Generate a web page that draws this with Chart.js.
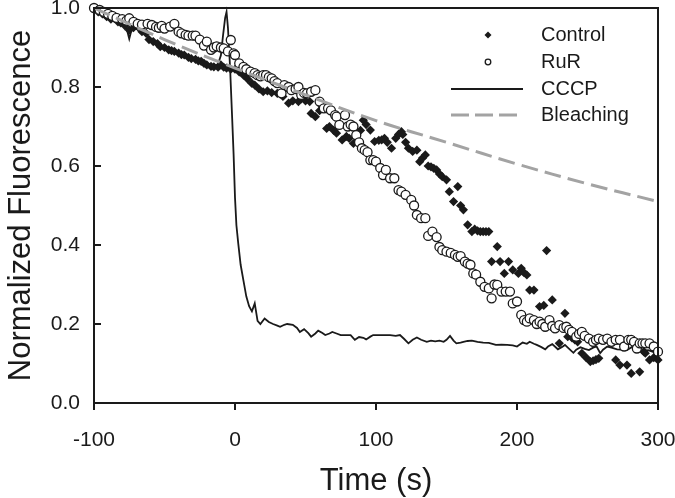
<!DOCTYPE html>
<html>
<head>
<meta charset="utf-8">
<script src="https://cdn.jsdelivr.net/npm/chart.js@4.4.1/dist/chart.umd.min.js"></script>
<style>
  html, body { margin: 0; padding: 0; background: #fff; }
  #wrap { width: 675px; height: 498px; }
</style>
</head>
<body>
<div id="wrap"><canvas id="chart" width="675" height="498"></canvas></div>
<script>
// axis ticks
var xTicks = [-100, 0, 100, 200, 300];
var yTicks = [0, 0.2, 0.4, 0.6, 0.8, 1.0];

// [time (s), normalized fluorescence]
var control = [
  [-100,1.0],[-97,0.99],[-94,0.985],[-91,0.978],[-88,0.972],[-86,0.975],[-83,0.965],[-81,0.962],
  [-78,0.955],[-75,0.944],[-72,0.95],[-69,0.953],[-66,0.94],[-63,0.936],[-61,0.92],[-58,0.915],
  [-55,0.91],[-53,0.902],[-50,0.9],[-47,0.894],[-45,0.892],[-43,0.89],[-40,0.886],[-38,0.882],
  [-36,0.881],[-33,0.875],[-31,0.872],[-28,0.87],[-26,0.866],[-24,0.865],[-22,0.86],[-20,0.856],
  [-17,0.852],[-15,0.851],[-12,0.85],[-10,0.856],[-8,0.85],[-6,0.848],[-3,0.845],[0,0.845],
  [3,0.838],[6,0.83],[9,0.82],[12,0.809],[14,0.805],[17,0.795],[20,0.788],[23,0.79],[26,0.786],
  [30,0.784],[34,0.776],[38,0.759],[41,0.765],[45,0.763],[47,0.77],[50,0.765],[53,0.763],
  [54,0.733],[57,0.725],[60,0.74],[62,0.75],[65,0.695],[67,0.7],[70,0.69],[72,0.683],[76,0.666],
  [79,0.675],[81,0.67],[84,0.657],[87,0.665],[89,0.69],[91,0.716],[93,0.705],[96,0.691],
  [99,0.662],[102,0.665],[104,0.666],[106,0.67],[108,0.66],[111,0.645],[114,0.67],[116,0.68],
  [118,0.687],[119,0.68],[121,0.66],[123,0.645],[126,0.637],[129,0.64],[131,0.611],[133,0.62],
  [135,0.628],[137,0.6],[139,0.598],[141,0.594],[143,0.59],[145,0.58],[147,0.573],[150,0.565],
  [152,0.535],[155,0.51],[158,0.548],[160,0.5],[162,0.489],[165,0.451],[168,0.434],[170,0.44],
  [172,0.436],[174,0.434],[176,0.434],[178,0.434],[180,0.434],[182,0.358],[186,0.396],[188,0.358],
  [191,0.328],[194,0.358],[197,0.337],[201,0.328],[203,0.341],[205,0.33],[207,0.324],[209,0.286],
  [212,0.286],[216,0.244],[219,0.247],[221,0.386],[225,0.261],[230,0.151],[234,0.227],[236,0.168],
  [239,0.165],[241,0.16],[243,0.155],[246,0.126],[249,0.115],[252,0.105],[254,0.107],[256,0.11],
  [258,0.113],[270,0.109],[273,0.096],[278,0.096],[281,0.075],[287,0.079],[290,0.13],[291,0.126],
  [294,0.109],[297,0.115],[300,0.109]
];

var rur = [
  [-100,1.0],[-96,0.995],[-93,0.99],[-90,0.985],[-87,0.98],[-84,0.975],[-80,0.972],[-77,0.968],
  [-75,0.974],[-72,0.965],[-69,0.96],[-66,0.958],[-62,0.96],[-59,0.957],[-56,0.952],[-54,0.95],
  [-52,0.955],[-50,0.948],[-46,0.953],[-43,0.96],[-40,0.94],[-38,0.936],[-35,0.932],[-33,0.93],
  [-30,0.93],[-28,0.93],[-25,0.92],[-22,0.905],[-20,0.915],[-17,0.894],[-15,0.9],[-13,0.903],
  [-10,0.9],[-8,0.898],[-5,0.89],[-3,0.919],[-1,0.885],[0,0.881],[3,0.86],[6,0.851],[8,0.845],
  [11,0.839],[14,0.835],[16,0.83],[18,0.827],[20,0.83],[22,0.83],[24,0.825],[26,0.822],[28,0.815],
  [30,0.81],[33,0.784],[35,0.805],[38,0.8],[40,0.792],[43,0.795],[45,0.8],[47,0.78],[49,0.785],
  [51,0.784],[54,0.788],[57,0.792],[60,0.763],[63,0.746],[66,0.746],[68,0.741],[71,0.729],
  [72,0.725],[74,0.704],[78,0.729],[80,0.7],[82,0.705],[84,0.7],[86,0.678],[88,0.66],[90,0.645],
  [92,0.64],[94,0.635],[96,0.615],[98,0.615],[100,0.611],[103,0.595],[105,0.577],[107,0.59],
  [110,0.569],[113,0.569],[116,0.539],[118,0.535],[121,0.527],[125,0.514],[127,0.5],[129,0.476],
  [132,0.468],[135,0.468],[137,0.423],[140,0.434],[143,0.42],[145,0.395],[147,0.387],[150,0.383],
  [153,0.38],[156,0.375],[158,0.37],[160,0.372],[163,0.358],[165,0.353],[167,0.35],[169,0.328],
  [171,0.325],[174,0.307],[177,0.294],[180,0.29],[182,0.265],[184,0.3],[186,0.299],[189,0.282],
  [192,0.282],[195,0.282],[197,0.252],[200,0.257],[203,0.223],[205,0.21],[207,0.206],[209,0.214],
  [212,0.21],[214,0.2],[216,0.206],[218,0.2],[220,0.193],[223,0.21],[225,0.195],[227,0.189],
  [230,0.197],[233,0.19],[235,0.193],[237,0.185],[239,0.18],[242,0.168],[244,0.175],[246,0.18],
  [248,0.17],[251,0.163],[254,0.155],[256,0.16],[258,0.163],[261,0.16],[264,0.163],[267,0.155],
  [270,0.16],[273,0.16],[276,0.143],[279,0.16],[281,0.16],[283,0.155],[285,0.138],[287,0.151],
  [289,0.151],[291,0.151],[294,0.151],[297,0.143],[300,0.13]
];

var cccp = [
  [-100,1.0],[-97,0.99],[-94,0.985],[-91,0.975],[-88,0.972],[-85,0.965],[-82,0.96],[-79,0.958],
  [-77,0.95],[-75,0.922],[-73,0.95],[-71,0.948],[-68,0.945],[-65,0.935],[-62,0.93],[-59,0.92],
  [-56,0.915],[-53,0.905],[-50,0.902],[-47,0.898],[-44,0.892],[-41,0.888],[-38,0.884],[-35,0.878],
  [-32,0.874],[-29,0.87],[-26,0.868],[-23,0.862],[-20,0.86],[-17,0.856],[-14,0.855],[-12,0.858],
  [-10,0.88],[-8.5,0.93],[-7,0.975],[-6,0.99],[-5,0.95],[-3.5,0.85],[-2,0.72],[-1,0.63],[0,0.52],
  [1,0.45],[2.3,0.404],[4,0.35],[6,0.31],[8,0.27],[10,0.245],[12,0.232],[14,0.252],[16,0.208],
  [18,0.2],[21,0.214],[24,0.205],[27,0.2],[30,0.196],[32,0.193],[35,0.198],[37,0.2],[41,0.198],
  [44,0.19],[46,0.18],[49,0.187],[52,0.177],[54,0.168],[57,0.176],[59,0.183],[62,0.177],
  [64,0.172],[67,0.176],[69,0.18],[72,0.176],[75,0.172],[78,0.172],[82,0.172],[85,0.16],
  [88,0.167],[91,0.165],[93,0.161],[96,0.168],[98,0.172],[102,0.172],[106,0.172],[110,0.172],
  [114,0.17],[117,0.172],[120,0.162],[123,0.151],[126,0.16],[129,0.166],[132,0.16],[136,0.155],
  [139,0.158],[142,0.156],[145,0.158],[148,0.155],[150,0.16],[152.5,0.17],[155,0.158],[157,0.151],
  [160,0.153],[162,0.155],[165,0.157],[168,0.158],[172,0.155],[176,0.153],[180,0.152],[185,0.147],
  [189,0.148],[193,0.147],[197,0.146],[200,0.143],[204,0.153],[207,0.15],[209,0.155],[212,0.15],
  [214,0.147],[217,0.142],[220,0.136],[222,0.143],[225,0.149],[229,0.136],[232,0.142],[234,0.147],
  [237,0.137],[240,0.127],[242,0.135],[245,0.141],[248,0.137],[251,0.134],[254,0.14],[256.5,0.143],
  [259,0.126],[261,0.135],[264,0.143],[267,0.14],[271,0.136],[274,0.135],[278,0.134],[282.5,0.144],
  [285,0.138],[287,0.13],[290,0.132],[293,0.134],[296,0.13],[299,0.126]
];

var bleaching = [
  [-100,1.0],[-50,0.92],[0,0.848],[50,0.78],[100,0.715],[150,0.66],[200,0.605],[250,0.555],[300,0.51]
];

var FONT = "'Liberation Sans', Arial, Helvetica, sans-serif";
var INK = "#1a1a1a";
var GREY = "#a3a3a3";

function toXY(arr) {
  return arr.map(function (p) { return { x: p[0], y: p[1] }; });
}

// frame, tick marks (y inward, x outward) and the legend
var framePlugin = {
  id: "frame",
  afterDatasetsDraw: function (chart) {
    var ctx = chart.ctx;
    var a = chart.chartArea;
    var xs = chart.scales.x, ys = chart.scales.y;
    ctx.save();
    ctx.strokeStyle = INK;
    ctx.lineWidth = 2;
    ctx.strokeRect(a.left, a.top, a.right - a.left, a.bottom - a.top);
    ctx.beginPath();
    xTicks.forEach(function (v) {
      var px = Math.round(xs.getPixelForValue(v));
      ctx.moveTo(px, a.bottom);
      ctx.lineTo(px, a.bottom + 7);
    });
    yTicks.forEach(function (v) {
      var py = Math.round(ys.getPixelForValue(v));
      ctx.moveTo(a.left, py);
      ctx.lineTo(a.left + 7, py);
    });
    ctx.stroke();
    ctx.restore();
  },
  afterDraw: function (chart) {
    var ctx = chart.ctx;
    var sx = 488, tx = 541;
    var rows = [35, 62, 89, 115];
    ctx.save();
    // Control: small diamond
    ctx.fillStyle = INK;
    ctx.beginPath();
    ctx.moveTo(sx, rows[0] - 3.5);
    ctx.lineTo(sx + 3.5, rows[0]);
    ctx.lineTo(sx, rows[0] + 3.5);
    ctx.lineTo(sx - 3.5, rows[0]);
    ctx.closePath();
    ctx.fill();
    // RuR: small open circle
    ctx.strokeStyle = INK;
    ctx.lineWidth = 1.3;
    ctx.fillStyle = "#fff";
    ctx.beginPath();
    ctx.arc(sx, rows[1], 2.8, 0, Math.PI * 2);
    ctx.fill();
    ctx.stroke();
    // CCCP: solid line
    ctx.lineWidth = 2;
    ctx.beginPath();
    ctx.moveTo(451, rows[2]);
    ctx.lineTo(523, rows[2]);
    ctx.stroke();
    // Bleaching: dashed grey line
    ctx.strokeStyle = GREY;
    ctx.lineWidth = 3;
    ctx.setLineDash([18, 6]);
    ctx.beginPath();
    ctx.moveTo(451, rows[3]);
    ctx.lineTo(523, rows[3]);
    ctx.stroke();
    ctx.setLineDash([]);
    ctx.fillStyle = INK;
    ctx.font = "20px " + FONT;
    ctx.textBaseline = "middle";
    ctx.textAlign = "left";
    var names = chart.data.datasets.map(function (d) { return d.label; });
    var order = ["Control", "RuR", "CCCP", "Bleaching"];
    order.forEach(function (n, i) {
      if (names.indexOf(n) >= 0) ctx.fillText(n, tx, rows[i]);
    });
    ctx.restore();
  }
};

new Chart(document.getElementById("chart"), {
  type: "scatter",
  data: {
    datasets: [
      {
        label: "Bleaching",
        data: toXY(bleaching),
        showLine: true,
        borderColor: GREY,
        borderWidth: 3,
        borderDash: [17, 7],
        pointRadius: 0,
        tension: 0.4,
        clip: false
      },
      {
        label: "RuR",
        data: toXY(rur),
        showLine: false,
        pointStyle: "circle",
        pointRadius: 4.5,
        pointBorderWidth: 1.3,
        pointBackgroundColor: "#fff",
        pointBorderColor: INK,
        clip: false
      },
      {
        label: "Control",
        data: toXY(control),
        showLine: false,
        pointStyle: "rectRot",
        pointRadius: 4.6,
        pointBorderWidth: 0,
        pointBackgroundColor: INK,
        pointBorderColor: INK,
        clip: false
      },
      {
        label: "CCCP",
        data: toXY(cccp),
        showLine: true,
        borderColor: INK,
        borderWidth: 1.8,
        pointRadius: 0,
        tension: 0,
        clip: false
      }
    ]
  },
  options: {
    responsive: false,
    devicePixelRatio: 1,
    animation: false,
    layout: { padding: { top: 8, right: 17, left: 0, bottom: 0 } },
    plugins: {
      legend: { display: false },
      tooltip: { enabled: false }
    },
    scales: {
      x: {
        type: "linear",
        min: -100,
        max: 300,
        afterFit: function (s) { s.height = 95; s.paddingLeft = 0; s.paddingRight = 0; },
        afterBuildTicks: function (s) { s.ticks = xTicks.map(function (v) { return { value: v }; }); },
        grid: { display: false, drawTicks: false },
        border: { display: false },
        ticks: {
          padding: 25,
          color: INK,
          font: { family: FONT, size: 21 },
          maxRotation: 0,
          callback: function (v) { return String(v); }
        },
        title: {
          display: true,
          text: "Time (s)",
          color: INK,
          font: { family: FONT, size: 31, lineHeight: 1 },
          padding: { top: 0, bottom: 1 }
        }
      },
      y: {
        type: "linear",
        min: 0,
        max: 1,
        afterFit: function (s) { s.width = 94; s.paddingTop = 0; s.paddingBottom = 0; },
        afterBuildTicks: function (s) { s.ticks = yTicks.map(function (v) { return { value: v }; }); },
        grid: { display: false, drawTicks: false },
        border: { display: false },
        ticks: {
          padding: 14,
          color: INK,
          font: { family: FONT, size: 21 },
          callback: function (v) { return Number(v).toFixed(1); }
        },
        title: {
          display: true,
          text: "Normalized Fluorescence",
          color: INK,
          font: { family: FONT, size: 31, lineHeight: 1 },
          padding: { top: 6, bottom: 0 }
        }
      }
    }
  },
  plugins: [framePlugin]
});
</script>
</body>
</html>
